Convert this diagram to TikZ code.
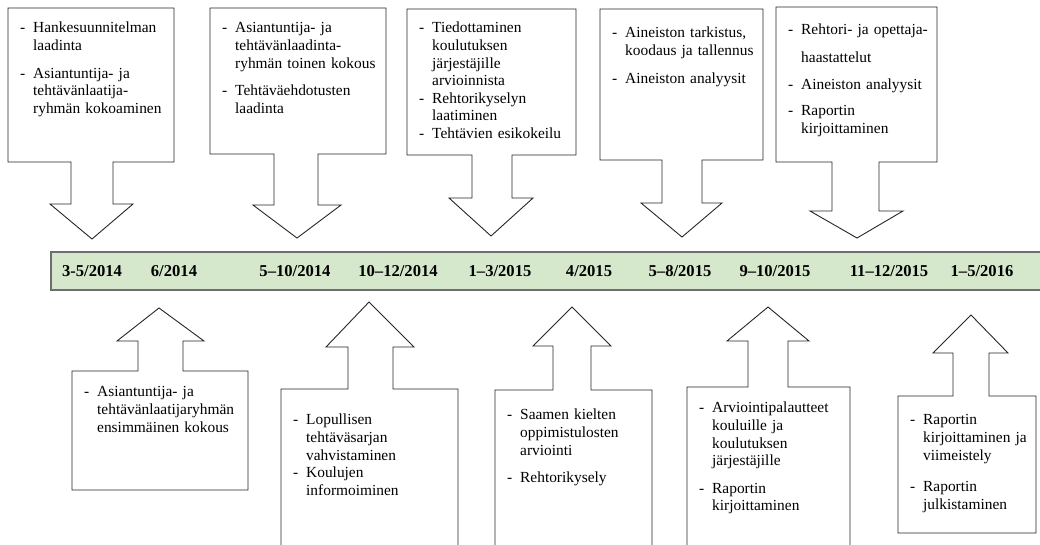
\documentclass[tikz,border=0pt]{standalone}
\usepackage{fontspec}
\setmainfont{Liberation Serif}
\definecolor{barfill}{RGB}{214,232,203}
\definecolor{barline}{RGB}{110,110,110}
\newcommand\itm{\par\hangindent=13pt\hangafter=1\noindent\makebox[13pt][l]{-}}
\newcommand\cont{\par\noindent\hspace*{13pt}}
\newcommand\gap[1]{\par\vspace{#1}}
\tikzset{
  callout/.style={draw=black!85, line width=0.9pt, fill=white, line join=miter},
  boxtext/.style={anchor=north west, inner sep=0pt, text width=190pt,
    font=\fontsize{15.4}{17.6}\selectfont},
  datelabel/.style={inner sep=0pt, font=\fontsize{16.6}{18}\selectfont\bfseries},
}
\begin{document}
\begin{tikzpicture}[x=1pt,y=-1pt]
\useasboundingbox (0,0) rectangle (1040,544);

% timeline bar
\draw[fill=barfill, draw=barline, line width=1.6pt] (51,252) rectangle (1050,290);
\node[datelabel] (d1) at (92,271) {3-5/2014};
\node[datelabel] (d2) at (174,271) {6/2014};
\node[datelabel] (d3) at (295,271) {5–10/2014};
\node[datelabel] (d4) at (398,271) {10–12/2014};
\node[datelabel] (d5) at (500,271) {1–3/2015};
\node[datelabel] (d6) at (589,271) {4/2015};
\node[datelabel] (d7) at (680,271) {5–8/2015};
\node[datelabel] (d8) at (775,271) {9–10/2015};
\node[datelabel] (d9) at (889,271) {11–12/2015};
\node[datelabel] (d10) at (982,271) {1–5/2016};

% top callouts (pointing down)
\draw[callout] (8,8) -- (174,8) -- (174,162) -- (113,162) -- (113,204) -- (133,204) -- (92,239) -- (50,204) -- (71,204) -- (71,162) -- (8,162) -- cycle;
\draw[callout] (210,8) -- (386,8) -- (386,154) -- (318,154) -- (318,205) -- (341,205) -- (297,238) -- (253,205) -- (274,205) -- (274,154) -- (210,154) -- cycle;
\draw[callout] (407,9) -- (576,9) -- (576,155) -- (512,155) -- (512,198) -- (533,198) -- (491,236) -- (449,198) -- (472,198) -- (472,155) -- (407,155) -- cycle;
\draw[callout] (600,9) -- (763,9) -- (763,160) -- (702,160) -- (702,203) -- (722,203) -- (682,237) -- (641,203) -- (662,203) -- (662,160) -- (600,160) -- cycle;
\draw[callout] (776,7) -- (937,7) -- (937,162) -- (879,162) -- (879,211) -- (903,211) -- (857,238) -- (810,211) -- (832,211) -- (832,162) -- (776,162) -- cycle;

% bottom callouts (pointing up)
\draw[callout] (159,308) -- (204,341) -- (183,341) -- (183,371) -- (248,371) -- (248,490) -- (72,490) -- (72,371) -- (138,371) -- (138,341) -- (117,341) -- cycle;
\draw[callout] (369,302) -- (414,347) -- (393,347) -- (393,389) -- (458,389) -- (458,552) -- (281,552) -- (281,389) -- (348,389) -- (348,347) -- (326,347) -- cycle;
\draw[callout] (572,307) -- (611,346) -- (591,346) -- (591,390) -- (652,390) -- (652,552) -- (495,552) -- (495,390) -- (553,390) -- (553,346) -- (533,346) -- cycle;
\draw[callout] (768,307) -- (809,341) -- (788,341) -- (788,387) -- (850,387) -- (850,552) -- (687,552) -- (687,387) -- (748,387) -- (748,341) -- (727,341) -- cycle;
\draw[callout] (971,315) -- (1008,353) -- (989,353) -- (989,396) -- (1036,396) -- (1036,533) -- (898,533) -- (898,396) -- (953,396) -- (953,353) -- (933,353) -- cycle;

% top texts
\node[boxtext] (t1) at (20,15) {%
\itm Hankesuunnitelman\newline laadinta\gap{10pt}%
\itm Asiantuntija- ja\newline tehtävänlaatija-\newline ryhmän kokoaminen\par};
\node[boxtext] (t2) at (222,15) {%
\itm Asiantuntija- ja\newline tehtävänlaadinta-\newline ryhmän toinen kokous\gap{10pt}%
\itm Tehtäväehdotusten\newline laadinta\par};
\node[boxtext] (t3) at (419,15) {%
\itm Tiedottaminen\newline koulutuksen\newline järjestäjille\newline arvioinnista%
\itm Rehtorikyselyn\newline laatiminen%
\itm Tehtävien esikokeilu\par};
\node[boxtext] (t4) at (612,20) {%
\itm Aineiston tarkistus,\newline koodaus ja tallennus\gap{10pt}%
\itm Aineiston analyysit\par};
\node[boxtext] (t5) at (788,17) {%
\itm Rehtori- ja opettaja-\gap{10pt}\cont haastattelut\gap{9pt}%
\itm Aineiston analyysit\gap{9pt}%
\itm Raportin\newline kirjoittaminen\par};

% bottom texts
\node[boxtext] (b1) at (84,379) {%
\itm Asiantuntija- ja\newline tehtävänlaatijaryhmän\newline ensimmäinen kokous\par};
\node[boxtext] (b2) at (293,407) {%
\itm Lopullisen\newline tehtäväsarjan\newline vahvistaminen%
\itm Koulujen\newline informoiminen\par};
\node[boxtext] (b3) at (507,402) {%
\itm Saamen kielten\newline oppimistulosten\newline arviointi\gap{10pt}%
\itm Rehtorikysely\par};
\node[boxtext] (b4) at (699,395) {%
\itm Arviointipalautteet\newline kouluille ja\newline koulutuksen\newline järjestäjille\gap{10pt}%
\itm Raportin\newline kirjoittaminen\par};
\node[boxtext] (b5) at (910,407) {%
\itm Raportin\newline kirjoittaminen ja\newline viimeistely\gap{14pt}%
\itm Raportin\newline julkistaminen\par};
\end{tikzpicture}
\end{document}
